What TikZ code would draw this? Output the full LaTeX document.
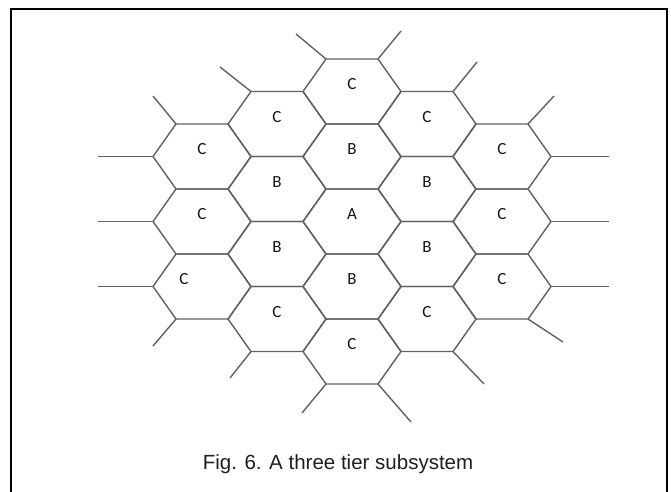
\documentclass[tikz,border=0pt]{standalone}
\usepackage{fontspec}
\newfontfamily\labelfont{Carlito}
\newfontfamily\capfont{Liberation Sans}
\begin{document}
\begin{tikzpicture}[x=1pt,y=-1pt,
  hexline/.style={draw=black!62, line width=1.4pt, line join=miter},
  stubline/.style={draw=black!62, line width=1.4pt},
  cell/.style={font=\labelfont\fontsize{17}{17}\selectfont, text=black!92, inner sep=0pt},
  frameline/.style={draw=black, line width=2pt},
  captext/.style={font=\capfont\fontsize{20.5}{24}\selectfont, text=black!88, inner sep=0pt}]
\useasboundingbox (0,0) rectangle (671,491);
\fill[white] (0,0) rectangle (671,491);
\draw[frameline] (11,500) -- (11,9) -- (666.5,9) -- (666.5,500);
\foreach \cx/\cy/\lab/\nm/\dx in {
  352/91.5/C/cT/0, 352/156.5/B/bT/0, 352/221.5/A/a/0, 352/286.5/B/bB/0, 352/351.5/C/cB/0,
  277/124/C/cTL/0, 277/189/B/bTL/0, 277/254/B/bBL/0, 277/319/C/cBL/0,
  427/124/C/cTR/0, 427/189/B/bTR/0, 427/254/B/bBR/0, 427/319/C/cBR/0,
  202/156.5/C/cLa/0, 202/221.5/C/cLb/0, 202/286.5/C/cLc/-18,
  502/156.5/C/cRa/0, 502/221.5/C/cRb/0, 502/286.5/C/cRc/0}
{
  \begin{scope}[shift={(\cx,\cy)}]
    \coordinate (\nm-l) at (-49,0);
    \coordinate (\nm-tl) at (-26,-32.5);
    \coordinate (\nm-tr) at (26,-32.5);
    \coordinate (\nm-r) at (49,0);
    \coordinate (\nm-br) at (26,32.5);
    \coordinate (\nm-bl) at (-26,32.5);
    \draw[hexline] (\nm-l) -- (\nm-tl) -- (\nm-tr) -- (\nm-r) -- (\nm-br) -- (\nm-bl) -- cycle;
    \node[cell] (\nm) at (\dx,-7) {\lab};
  \end{scope}
}
% stubs at the outer vertices
\draw[stubline] (cT-tl) -- ++(-30,-25);
\draw[stubline] (cT-tr) -- ++(23,-28);
\draw[stubline] (cTL-tl) -- ++(-31,-24.5);
\draw[stubline] (cTR-tr) -- ++(24,-29.5);
\draw[stubline] (cLa-tl) -- ++(-23,-28);
\draw[stubline] (cRa-tr) -- ++(26,-28);
\draw[stubline] (cLa-l) -- ++(-55,0);
\draw[stubline] (cRa-r) -- ++(58,0);
\draw[stubline] (cLb-l) -- ++(-55,0);
\draw[stubline] (cRb-r) -- ++(58,0);
\draw[stubline] (cLc-l) -- ++(-55,0);
\draw[stubline] (cRc-r) -- ++(58,0);
\draw[stubline] (cLc-bl) -- ++(-23,27);
\draw[stubline] (cRc-br) -- ++(35,23);
\draw[stubline] (cBL-bl) -- ++(-21,26.5);
\draw[stubline] (cBR-br) -- ++(31,32.5);
\draw[stubline] (cB-bl) -- ++(-24,29);
\draw[stubline] (cB-br) -- ++(33,38);
\node[captext, anchor=base] (cap) at (338,469.3) {Fig. 6. A three tier subsystem};
\end{tikzpicture}
\end{document}
